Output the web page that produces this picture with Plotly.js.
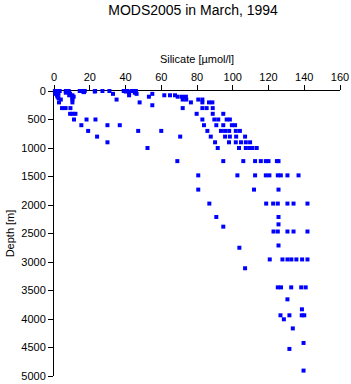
<!DOCTYPE html>
<html><head><meta charset="utf-8">
<script src="https://cdn.plot.ly/plotly-3.0.1.min.js"></script>
<style>html,body{margin:0;padding:0;background:#fff}#chart{width:351px;height:384px}</style>
</head><body><div id="chart"></div>
<script>
// Depth levels [m] and silicate values [µmol/l]
const depthLevels = [0,10,20,30,50,75,100,125,150,200,250,300,400,500,600,700,800,900,1000,1230,1480,1730,1975,2210,2340,2380,2465,2710,2750,2955,3110,3445,3655,3830,3935,4005,4165,4420,4525,4905];
const silicateAtLevel = [
  [0.5,1.0,3.2,6.6,8.2,14.4,15.4,17.2,23.0,27.1,31.0,39.0,41.0,43.7,45.8],
  [0.8,2.0,7.8,16.3,22.8,40.2,42.0],
  [1.2,8.5,16.8],
  [1.5,6.6,42.0,45.2],
  [0.8,2.5,9.0,33.0,46.2,55.0],
  [1.7,8.5,10.3,42.0,61.7,64.9,67.7],
  [2.0,10.3,11.0,53.1,69.2,71.6,73.8],
  [2.5,10.3],
  [3.8,10.3,35.0,72.0,74.0,80.7,83.0],
  [2.8,10.3,47.9,76.6,83.0,86.7,88.6],
  [55.0],
  [4.5,6.5,9.2,72.0,83.0,85.4,88.8],
  [9.0,10.5,12.0,79.8,88.8,94.7],
  [11.2,18.2,23.2,83.0,89.7,91.9,96.6,98.4],
  [15.3,29.9,36.8,83.9,90.8,94.7,99.5,101.3],
  [19.1,47.1,60.0,85.8,93.4,95.7,98.0,101.7,104.0],
  [24.1,70.6,87.7,95.7,98.4,101.9,106.9],
  [29.9,90.1,97.9,101.7,104.6,107.3,109.7],
  [52.3,91.6,103.5,107.3,109.3,111.0,113.4],
  [69.0,94.7,105.9,112.5,115.7,118.5,120.0,124.7,125.6],
  [80.7,102.6,112.5,118.5,120.5,125.2,126.9,130.6,136.8],
  [80.7,111.9,125.6],
  [86.9,118.7,122.6,125.2,130.6,134.0,141.8],
  [90.8,125.6],
  [125.6],
  [94.7],
  [122.8,125.2,130.6,134.0,141.8],
  [125.6],
  [103.7],
  [120.7,127.8,130.6,132.8,135.6,138.8,141.8],
  [106.9],
  [125.2,127.0,132.7,138.3,140.8],
  [130.6],
  [138.7],
  [126.7,131.7,138.6,140.0],
  [128.6],
  [133.6],
  [139.6],
  [131.7],
  [139.6]
];
const xTickVals = [0,20,40,60,80,100,120,140,160];
const yTickVals = [0,500,1000,1500,2000,2500,3000,3500,4000,4500,5000];

const xs = [], ys = [];
depthLevels.forEach((d,i)=>{ silicateAtLevel[i].forEach(v=>{ xs.push(v); ys.push(d); }); });

const font = {family:'Liberation Sans, Arial, sans-serif', color:'#000', size:11};
Plotly.newPlot('chart',[{
  type:'scatter', mode:'markers', x:xs, y:ys, cliponaxis:false,
  marker:{symbol:'square', size:4, color:'#0000ff', line:{width:0}}
}],{
  width:351, height:384,
  margin:{l:54, r:11, t:91, b:8},
  paper_bgcolor:'#fff', plot_bgcolor:'#fff',
  font:font, showlegend:false,
  title:{text:'MODS2005 in March, 1994', x:0.55, xanchor:'center', y:0.975, yanchor:'middle', font:{family:font.family, size:14, color:'#000'}},
  xaxis:{side:'top', range:[0,160], tickvals:xTickVals, ticks:'outside', ticklen:5, tickcolor:'#000',
    showline:true, linecolor:'#000', linewidth:1, showgrid:false, zeroline:false, layer:'below traces',
    tickfont:{size:11}, title:{text:'Silicate [µmol/l]', font:{size:11}, standoff:4}},
  yaxis:{range:[5000,0], tickvals:yTickVals, ticks:'outside', ticklen:5, tickcolor:'#000',
    showline:true, linecolor:'#000', linewidth:1, showgrid:false, zeroline:false, layer:'below traces',
    tickfont:{size:11}, title:{text:'Depth [m]', font:{size:11}, standoff:4}}
},{displayModeBar:false, staticPlot:true});
</script></body></html>
